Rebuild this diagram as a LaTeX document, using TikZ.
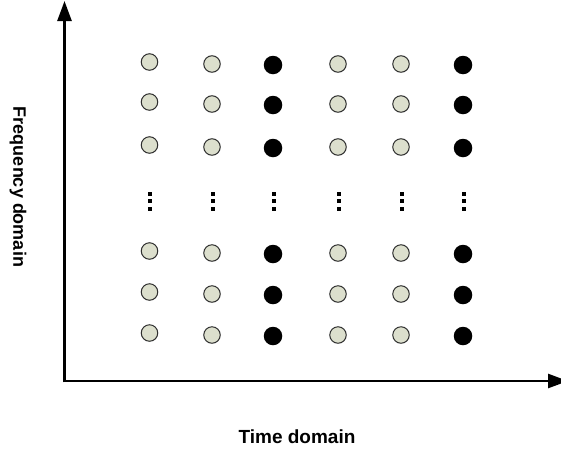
\documentclass[tikz,border=0pt]{standalone}
\usepackage{fontspec}
\setmainfont{Liberation Sans}
\usetikzlibrary{arrows.meta}
\definecolor{lightdot}{HTML}{DCDFCD}
\definecolor{rimgray}{HTML}{2E2E2E}
\tikzset{
  lightpt/.style={circle,draw=rimgray,fill=lightdot,line width=1pt,minimum size=16.5pt,inner sep=0pt},
  darkpt/.style={circle,fill=black,minimum size=18.5pt,inner sep=0pt},
  vdot/.style={fill=black,minimum size=4pt,inner sep=0pt,rectangle},
  axis/.style={line width=2.6pt,-{Triangle[length=20pt,width=14pt]}},
  axlabel/.style={font=\fontsize{18}{20}\selectfont\bfseries,inner sep=0pt}
}
\begin{document}
\begin{tikzpicture}[x=1pt,y=-1pt]
\useasboundingbox (0,0) rectangle (561,453);
% axes
\coordinate (origin) at (64.5,381);
\coordinate (ytip) at (64.5,1);
\coordinate (xtip) at (568,381);
\draw[axis] ([yshift=-1.3pt]origin) -- (ytip);
\draw[axis] ([xshift=-1.3pt]origin) -- (xtip);
% grid of points
\foreach \c/\x/\dy/\kind in {1/149.5/-2/lightpt,2/212/0/lightpt,3/273/1/darkpt,4/338/0/lightpt,5/401/0/lightpt,6/463/1/darkpt}{
  \foreach \r/\y in {1/64,2/104,3/147,5/253,6/294,7/335}{
    \node[\kind] (c-\c-\r) at (\x,\y+\dy) {};
  }
  \node[vdot] (d1-\c) at (\x+0.5,193.5) {};
  \node[vdot] (d2-\c) at (\x+0.5,201) {};
  \node[vdot] (d3-\c) at (\x+0.5,208.5) {};
}
% labels
\node[axlabel,rotate=-90] (flabel) at (18,187) {Frequency domain};
\node[axlabel,font=\fontsize{19}{21}\selectfont\bfseries] (tlabel) at (297,437) {Time domain};
\end{tikzpicture}
\end{document}
